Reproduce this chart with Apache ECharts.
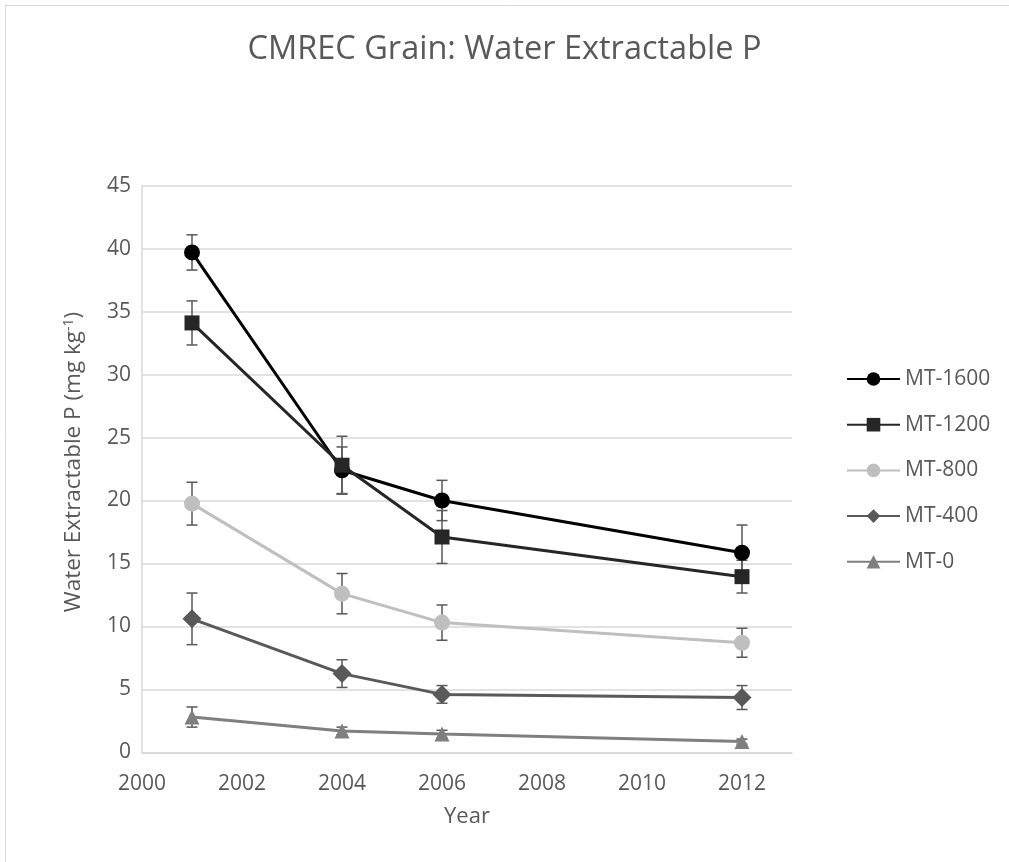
<!DOCTYPE html>
<html>
<head>
<meta charset="utf-8">
<script src="https://cdn.jsdelivr.net/npm/echarts@6/dist/echarts.min.js"></script>
<style>
  html, body { margin: 0; padding: 0; background: #fff; }
  #chart { width: 1009px; height: 862px; }
</style>
</head>
<body>
<div id="chart"></div>
<script>
// data
var years = [2001, 2004, 2006, 2012];
var seriesNames = ['MT-1600', 'MT-1200', 'MT-800', 'MT-400', 'MT-0'];
var mt1600 = [39.7, 22.4, 20.0, 15.85];
var mt1200 = [34.1, 22.8, 17.1, 13.95];
var mt800 = [19.75, 12.6, 10.3, 8.7];
var mt400 = [10.6, 6.25, 4.6, 4.35];
var mt0 = [2.8, 1.7, 1.45, 0.85];
// +/- error
var err1600 = [1.4, 1.85, 1.6, 2.2];
var err1200 = [1.75, 2.3, 2.1, 1.3];
var err800 = [1.7, 1.6, 1.4, 1.15];
var err400 = [2.05, 1.1, 0.7, 0.95];
var err0 = [0.8, 0.3, 0.3, 0.2];

var xTicks = [2000, 2002, 2004, 2006, 2008, 2010, 2012];
var yTicks = [0, 5, 10, 15, 20, 25, 30, 35, 40, 45];

var values = [mt1600, mt1200, mt800, mt400, mt0];
var errors = [err1600, err1200, err800, err400, err0];
var colors = ['#000000', '#262626', '#bfbfbf', '#595959', '#7f7f7f'];
var symbols = ['circle', 'rect', 'circle', 'diamond', 'triangle'];
var symbolSizes = [16, 15, 16, 19, 15];

var myChart = echarts.init(document.getElementById('chart'));
var font = '"Open Sans", "Noto Sans", sans-serif';

function errRender(params, api) {
    var x = api.value(0);
    var lo = api.coord([x, api.value(1)]);
    var hi = api.coord([x, api.value(2)]);
    var w = 5.5;
    var st = { stroke: '#595959', lineWidth: 1.5 };
    return {
        type: 'group',
        children: [
            { type: 'line', shape: { x1: lo[0], y1: lo[1], x2: hi[0], y2: hi[1] }, style: st },
            { type: 'line', shape: { x1: lo[0] - w, y1: lo[1], x2: lo[0] + w, y2: lo[1] }, style: st },
            { type: 'line', shape: { x1: hi[0] - w, y1: hi[1], x2: hi[0] + w, y2: hi[1] }, style: st }
        ]
    };
}

var series = [];
for (var i = 0; i < seriesNames.length; i++) {
    var eb = [];
    var pts = [];
    for (var j = 0; j < years.length; j++) {
        pts.push([years[j], values[i][j]]);
        eb.push([years[j], values[i][j] - errors[i][j], values[i][j] + errors[i][j]]);
    }
    series.push({
        name: seriesNames[i] + ' err',
        type: 'custom',
        renderItem: errRender,
        data: eb,
        z: 1,
        silent: true
    });
    series.push({
        name: seriesNames[i],
        type: 'line',
        data: pts,
        symbol: symbols[i],
        symbolSize: symbolSizes[i],
        showAllSymbol: true,
        color: colors[i],
        lineStyle: { color: colors[i], width: 3 },
        itemStyle: { color: colors[i] },
        z: 2
    });
}

var option = {
    animation: false,
    backgroundColor: '#fff',
    textStyle: { fontFamily: font },
    graphic: [{
        type: 'rect',
        shape: { x: 5.5, y: 5.5, width: 1040, height: 900 },
        style: { fill: 'none', stroke: '#d9d9d9', lineWidth: 1 },
        silent: true
    }],
    title: {
        text: 'CMREC Grain: Water Extractable P',
        left: 'center',
        top: 28,
        textStyle: { fontFamily: font, fontSize: 32.5, fontWeight: 'normal', color: '#595959' }
    },
    legend: {
        orient: 'vertical',
        left: 841,
        top: 363.5,
        itemWidth: 53,
        itemHeight: 17,
        itemGap: 24.7,
        data: seriesNames,
        textStyle: { fontFamily: font, fontSize: 21, color: '#595959' }
    },
    grid: { left: 142, right: 217, top: 185.7, bottom: 109.7, containLabel: false },
    xAxis: {
        type: 'value',
        min: 2000,
        max: 2013,
        interval: 2,
        name: 'Year',
        nameLocation: 'middle',
        nameGap: 53,
        nameTextStyle: { fontFamily: font, fontSize: 22, color: '#595959' },
        axisLine: { show: true, lineStyle: { color: '#d9d9d9', width: 1.5 } },
        axisTick: { show: false },
        splitLine: { show: false },
        axisLabel: {
            showMaxLabel: false,
            margin: 21,
            fontSize: 21,
            color: '#595959',
            fontFamily: font,
            formatter: function (v) { return xTicks.indexOf(v) >= 0 ? String(v) : ''; }
        }
    },
    yAxis: {
        type: 'value',
        min: 0,
        max: 45,
        interval: 5,
        name: 'Water Extractable P (mg kg{sup|-1})',
        nameLocation: 'middle',
        nameRotate: 90,
        nameGap: 56,
        nameTextStyle: {
            fontFamily: font, fontSize: 22.5, color: '#595959',
            padding: [0, 0, 0, 14],
            rich: {
                sup: { fontFamily: font, fontSize: 14, color: '#595959', verticalAlign: 'top', padding: [0, 0, 10, 0] }
            }
        },
        axisLine: { show: true, lineStyle: { color: '#d9d9d9', width: 1.5 } },
        axisTick: { show: false },
        splitLine: { lineStyle: { color: '#d9d9d9', width: 1.5 } },
        axisLabel: {
            margin: 11,
            fontSize: 21,
            color: '#595959',
            fontFamily: font,
            formatter: function (v) { return yTicks.indexOf(v) >= 0 ? String(v) : ''; }
        }
    },
    series: series
};

myChart.setOption(option);
</script>
</body>
</html>
